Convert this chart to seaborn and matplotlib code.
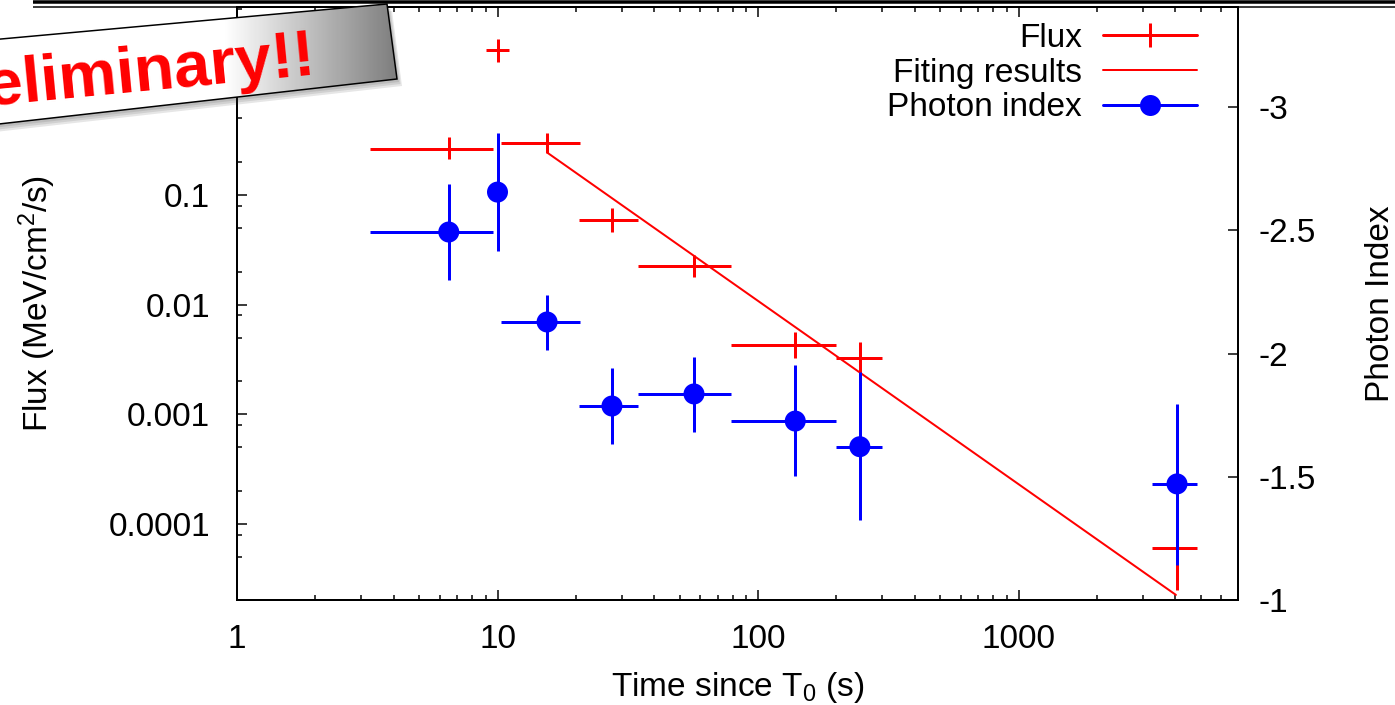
import numpy as np
import matplotlib
matplotlib.use("Agg")
import matplotlib.pyplot as plt
from matplotlib.lines import Line2D
from matplotlib.patches import Polygon
from matplotlib.ticker import LogLocator, NullFormatter, FixedLocator, FormatStrFormatter
import seaborn as sns

# flux light curve (left axis)
flux_t = [6.5, 10.0, 15.5, 27.5, 56.8, 139, 246, 4060]
flux_t_lo = [3.24, 9.0, 10.3, 20.6, 34.6, 78.8, 199, 3250]
flux_t_hi = [9.6, 11.1, 20.7, 34.6, 78.8, 199, 299, 4850]
flux = [0.264, 2.10, 0.296, 0.0592, 0.0225, 0.0043, 0.00327, 6.05e-5]
flux_lo = [0.213, 1.63, 0.241, 0.046, 0.0179, 0.00327, 0.00234, 2.51e-5]
flux_hi = [0.338, 2.64, 0.367, 0.0761, 0.0284, 0.00564, 0.00457, 1.46e-4]

# power law fit
fit_t = [15.6, 4020]
fit_flux = [0.2415, 2.26e-5]

# photon index (right axis)
index_t = [6.5, 10.0, 15.5, 27.5, 56.8, 139, 246, 4060]
index_t_lo = [3.24, 10.0, 10.3, 20.6, 34.6, 78.8, 199, 3250]
index_t_hi = [9.6, 10.0, 20.7, 34.6, 78.8, 199, 299, 4850]
index = [-2.493, -2.655, -2.128, -1.787, -1.836, -1.726, -1.622, -1.471]
index_lo = [-2.688, -2.895, -2.237, -1.941, -1.986, -1.953, -1.925, -1.795]
index_hi = [-2.298, -2.416, -2.014, -1.633, -1.682, -1.503, -1.325, -1.142]

x_ticks = [1, 10, 100, 1000]
flux_ticks = [1e-4, 1e-3, 1e-2, 1e-1, 1]
index_ticks = [-1, -1.5, -2, -2.5, -3]

sns.set_style("white")
plt.rcParams['font.family'] = ['Liberation Sans', 'DejaVu Sans']
plt.rcParams['mathtext.fontset'] = 'custom'
plt.rcParams['mathtext.rm'] = 'Liberation Sans'
plt.rcParams['mathtext.default'] = 'regular'
plt.rcParams['axes.unicode_minus'] = False
for k in ('text.color', 'axes.labelcolor', 'xtick.color', 'ytick.color'):
    plt.rcParams[k] = 'black'
FS = 24
PX = 0.72  # points per pixel at dpi 100

fig = plt.figure(figsize=(13.95, 7.05), dpi=100)
ax = fig.add_axes([237 / 1395, 105 / 705, 1001 / 1395, 593 / 705])
ax.set_xscale('log')
ax.set_yscale('log')
ax.set_xlim(1, 6960)
ax.set_ylim(2.03e-5, 5.18)

t = np.array(flux_t)
f = np.array(flux)
ax.errorbar(t, f,
            xerr=[t - np.array(flux_t_lo), np.array(flux_t_hi) - t],
            yerr=[f - np.array(flux_lo), np.array(flux_hi) - f],
            fmt='none', ecolor='#ff0000', elinewidth=3 * PX, capsize=0, zorder=3)
sns.lineplot(x=fit_t, y=fit_flux, ax=ax, color='#ff0000', linewidth=2 * PX, zorder=3)

ax2 = ax.twinx()
ax2.set_ylim(-1, -3.406)
ti = np.array(index_t)
gi = np.array(index)
ax2.errorbar(ti, gi,
             xerr=[ti - np.array(index_t_lo), np.array(index_t_hi) - ti],
             yerr=[gi - np.array(index_lo), np.array(index_hi) - gi],
             fmt='none', ecolor='#0000ff', elinewidth=3 * PX, capsize=0, zorder=3)
sns.scatterplot(x=index_t, y=index, ax=ax2, color='#0000ff', s=(21 * PX) ** 2,
                edgecolor='none', linewidth=0, zorder=4)

# axes styling
for a in (ax, ax2):
    for s in a.spines.values():
        s.set_linewidth(2 * PX)
        s.set_color('black')
ax.xaxis.set_major_locator(FixedLocator(x_ticks))
ax.xaxis.set_major_formatter(FormatStrFormatter('%g'))
ax.xaxis.set_minor_locator(LogLocator(base=10, subs=range(2, 10), numticks=20))
ax.xaxis.set_minor_formatter(NullFormatter())
ax.yaxis.set_major_locator(FixedLocator(flux_ticks))
ax.yaxis.set_major_formatter(FormatStrFormatter('%g'))
ax.yaxis.set_minor_locator(LogLocator(base=10, subs=(2, 5, 8), numticks=20))
ax.yaxis.set_minor_formatter(NullFormatter())
ax.tick_params(axis='x', which='both', direction='in', top=True, bottom=True,
               labelsize=FS, pad=24 * PX, width=1.5 * PX, color='black')
ax.tick_params(axis='y', which='both', direction='in', left=True, right=False,
               labelsize=FS, pad=27 * PX, width=1.5 * PX, color='black')
ax.tick_params(which='major', length=10 * PX)
ax.tick_params(which='minor', length=5 * PX)
ax2.yaxis.set_major_locator(FixedLocator(index_ticks))
ax2.yaxis.set_major_formatter(FormatStrFormatter('%g'))
ax2.tick_params(axis='y', which='major', direction='in', right=True, left=False,
                length=10 * PX, width=1.5 * PX, labelsize=FS, pad=20 * PX, color='black')
ax2.tick_params(axis='y', which='minor', right=False, left=False)

ax.set_xlabel('Time since T$_0$ (s)', fontsize=FS)
ax.set_ylabel('Flux (MeV/cm$^2$/s)', fontsize=FS)
ax2.set_ylabel('Photon Index', fontsize=FS)
ax.xaxis.set_label_coords(0.5, (600 - 670) / 593)
ax.yaxis.set_label_coords((58 - 237) / 1001, 0.5)
ax2.yaxis.set_label_coords((1365 - 237) / 1001, 0.5)

handles = [
    Line2D([], [], color='#ff0000', lw=3 * PX, marker='|', markersize=24 * PX,
           markeredgewidth=3 * PX),
    Line2D([], [], color='#ff0000', lw=2 * PX),
    Line2D([], [], color='#0000ff', lw=3 * PX, marker='o', markersize=21 * PX,
           markeredgewidth=0),
]
ax2.legend(handles, ['Flux', 'Fiting results', 'Photon index'], loc='upper right',
           bbox_to_anchor=((1197 - 237) / 1001, 1 - 16 / 593), frameon=False,
           fontsize=FS, markerfirst=False, borderpad=0, borderaxespad=0,
           handlelength=2.82, handletextpad=0.63, labelspacing=0.11, numpoints=1)

# slide decorations and banner
deco = fig.add_axes([0, 0, 1, 1], zorder=10)
deco.set_axis_off()
deco.plot([33, 1395], [1.5, 1.5], color='black', lw=3.5 * PX, solid_capstyle='butt')
deco.plot([33, 1395], [6.5, 6.5], color='black', lw=1.5 * PX, solid_capstyle='butt')

box = [(-10, 40), (387, 4), (397, 79), (-10, 125)]
for k, a in enumerate([0.12, 0.12, 0.12]):
    sh = Polygon([(x + 2 + k * 1.5, y + 3 + k * 2) for x, y in box], closed=True,
                 facecolor='#333333', edgecolor='none', alpha=a)
    deco.add_patch(sh)
poly = Polygon(box, closed=True, facecolor='none', edgecolor='black', lw=1.5 * PX, zorder=3)
deco.add_patch(poly)
gx = np.linspace(-10, 400, 200)
shade = np.clip(1 - (gx - 225) / 170 * 0.5, 0.5, 1.0)
img = deco.imshow(np.tile(shade, (10, 1)), cmap='gray', vmin=0, vmax=1,
                  extent=(-10, 400, 130, 0), aspect='auto', zorder=2)
img.set_clip_path(poly)
deco.text(317, 74, 'Preliminary!!', color='#ff0000', fontsize=47, fontweight='bold',
          ha='right', va='baseline', rotation=5.5, rotation_mode='anchor', zorder=4)
deco.set_xlim(0, 1395)
deco.set_ylim(705, 0)

fig.savefig('out.png', dpi=100)
